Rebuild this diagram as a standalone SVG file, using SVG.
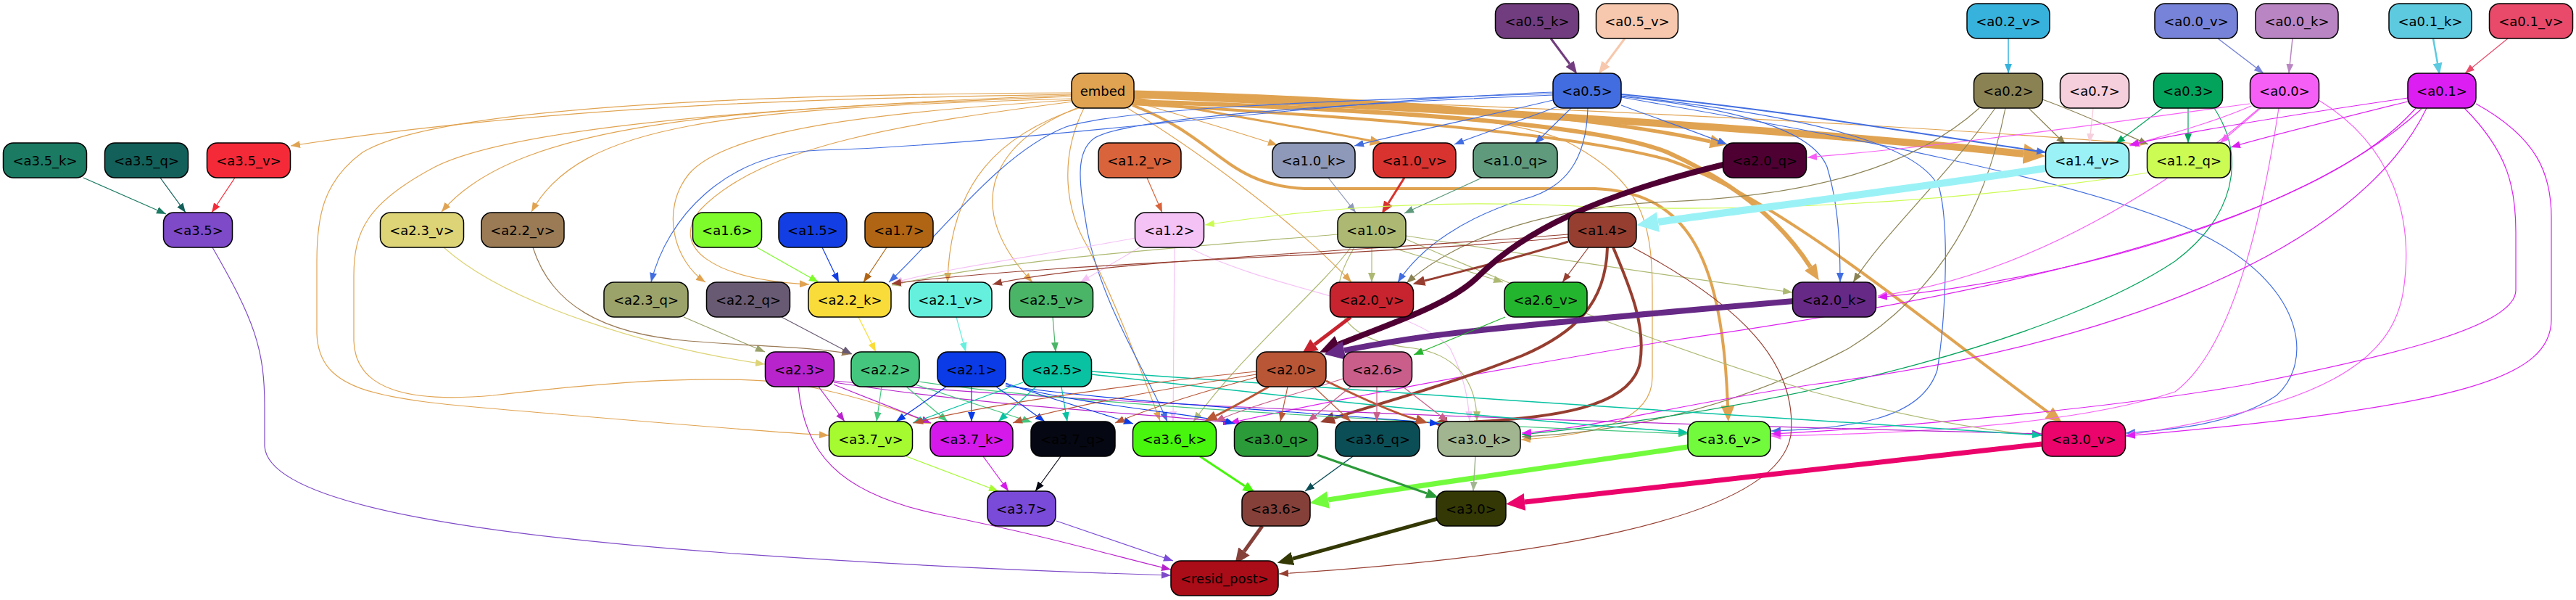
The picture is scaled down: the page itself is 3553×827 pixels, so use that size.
<svg xmlns="http://www.w3.org/2000/svg" width="3553" height="827" viewBox="0 0 3553 827">
<style>
.n rect{stroke:#000;stroke-width:1.5}
.n text{font-family:"DejaVu Sans","Liberation Sans",sans-serif;font-size:18px;text-anchor:middle;fill:#000}
</style>
<defs>
<marker id="s-emb" viewBox="0 0 10 10" refX="10" refY="5" markerWidth="13" markerHeight="10" markerUnits="userSpaceOnUse" orient="auto" preserveAspectRatio="none"><path d="M0,0L10,5L0,10z" fill="#e0a351"/></marker>
<marker id="M-emb" viewBox="0 0 10 10" refX="0" refY="5" markerWidth="17" markerHeight="14" markerUnits="userSpaceOnUse" orient="auto" preserveAspectRatio="none"><path d="M0,0L10,5L0,10z" fill="#e0a351"/></marker>
<marker id="L-emb" viewBox="0 0 10 10" refX="0" refY="5" markerWidth="22" markerHeight="19" markerUnits="userSpaceOnUse" orient="auto" preserveAspectRatio="none"><path d="M0,0L10,5L0,10z" fill="#e0a351"/></marker>
<marker id="X-emb" viewBox="0 0 10 10" refX="0" refY="5" markerWidth="30" markerHeight="28" markerUnits="userSpaceOnUse" orient="auto" preserveAspectRatio="none"><path d="M0,0L10,5L0,10z" fill="#e0a351"/></marker>
<marker id="M-a05k" viewBox="0 0 10 10" refX="0" refY="5" markerWidth="17" markerHeight="14" markerUnits="userSpaceOnUse" orient="auto" preserveAspectRatio="none"><path d="M0,0L10,5L0,10z" fill="#713d7e"/></marker>
<marker id="M-a05v" viewBox="0 0 10 10" refX="0" refY="5" markerWidth="17" markerHeight="14" markerUnits="userSpaceOnUse" orient="auto" preserveAspectRatio="none"><path d="M0,0L10,5L0,10z" fill="#f7c8ad"/></marker>
<marker id="s-a02v" viewBox="0 0 10 10" refX="10" refY="5" markerWidth="13" markerHeight="10" markerUnits="userSpaceOnUse" orient="auto" preserveAspectRatio="none"><path d="M0,0L10,5L0,10z" fill="#37b2dc"/></marker>
<marker id="s-a00v" viewBox="0 0 10 10" refX="10" refY="5" markerWidth="13" markerHeight="10" markerUnits="userSpaceOnUse" orient="auto" preserveAspectRatio="none"><path d="M0,0L10,5L0,10z" fill="#7783d8"/></marker>
<marker id="s-a00k" viewBox="0 0 10 10" refX="10" refY="5" markerWidth="13" markerHeight="10" markerUnits="userSpaceOnUse" orient="auto" preserveAspectRatio="none"><path d="M0,0L10,5L0,10z" fill="#ba85c3"/></marker>
<marker id="M-a01k" viewBox="0 0 10 10" refX="0" refY="5" markerWidth="16" markerHeight="13" markerUnits="userSpaceOnUse" orient="auto" preserveAspectRatio="none"><path d="M0,0L10,5L0,10z" fill="#5dcae0"/></marker>
<marker id="s-a01v" viewBox="0 0 10 10" refX="10" refY="5" markerWidth="13" markerHeight="10" markerUnits="userSpaceOnUse" orient="auto" preserveAspectRatio="none"><path d="M0,0L10,5L0,10z" fill="#e94a6a"/></marker>
<marker id="s-a35k" viewBox="0 0 10 10" refX="10" refY="5" markerWidth="13" markerHeight="10" markerUnits="userSpaceOnUse" orient="auto" preserveAspectRatio="none"><path d="M0,0L10,5L0,10z" fill="#1a7a62"/></marker>
<marker id="s-a35q" viewBox="0 0 10 10" refX="10" refY="5" markerWidth="13" markerHeight="10" markerUnits="userSpaceOnUse" orient="auto" preserveAspectRatio="none"><path d="M0,0L10,5L0,10z" fill="#135f5a"/></marker>
<marker id="s-a35v" viewBox="0 0 10 10" refX="10" refY="5" markerWidth="13" markerHeight="10" markerUnits="userSpaceOnUse" orient="auto" preserveAspectRatio="none"><path d="M0,0L10,5L0,10z" fill="#f52a38"/></marker>
<marker id="s-a35" viewBox="0 0 10 10" refX="10" refY="5" markerWidth="13" markerHeight="10" markerUnits="userSpaceOnUse" orient="auto" preserveAspectRatio="none"><path d="M0,0L10,5L0,10z" fill="#7e4ac8"/></marker>
<marker id="s-a05" viewBox="0 0 10 10" refX="10" refY="5" markerWidth="13" markerHeight="10" markerUnits="userSpaceOnUse" orient="auto" preserveAspectRatio="none"><path d="M0,0L10,5L0,10z" fill="#416de0"/></marker>
<marker id="s-a02" viewBox="0 0 10 10" refX="10" refY="5" markerWidth="13" markerHeight="10" markerUnits="userSpaceOnUse" orient="auto" preserveAspectRatio="none"><path d="M0,0L10,5L0,10z" fill="#8b8253"/></marker>
<marker id="s-a07" viewBox="0 0 10 10" refX="10" refY="5" markerWidth="13" markerHeight="10" markerUnits="userSpaceOnUse" orient="auto" preserveAspectRatio="none"><path d="M0,0L10,5L0,10z" fill="#f6cfdc"/></marker>
<marker id="s-a03" viewBox="0 0 10 10" refX="10" refY="5" markerWidth="13" markerHeight="10" markerUnits="userSpaceOnUse" orient="auto" preserveAspectRatio="none"><path d="M0,0L10,5L0,10z" fill="#04a35c"/></marker>
<marker id="s-a00" viewBox="0 0 10 10" refX="10" refY="5" markerWidth="13" markerHeight="10" markerUnits="userSpaceOnUse" orient="auto" preserveAspectRatio="none"><path d="M0,0L10,5L0,10z" fill="#f65ff6"/></marker>
<marker id="s-a01" viewBox="0 0 10 10" refX="10" refY="5" markerWidth="13" markerHeight="10" markerUnits="userSpaceOnUse" orient="auto" preserveAspectRatio="none"><path d="M0,0L10,5L0,10z" fill="#dc1ef2"/></marker>
<marker id="s-a12v" viewBox="0 0 10 10" refX="10" refY="5" markerWidth="13" markerHeight="10" markerUnits="userSpaceOnUse" orient="auto" preserveAspectRatio="none"><path d="M0,0L10,5L0,10z" fill="#d9633b"/></marker>
<marker id="s-a10k" viewBox="0 0 10 10" refX="10" refY="5" markerWidth="13" markerHeight="10" markerUnits="userSpaceOnUse" orient="auto" preserveAspectRatio="none"><path d="M0,0L10,5L0,10z" fill="#8e98b8"/></marker>
<marker id="M-a10v" viewBox="0 0 10 10" refX="0" refY="5" markerWidth="17" markerHeight="14" markerUnits="userSpaceOnUse" orient="auto" preserveAspectRatio="none"><path d="M0,0L10,5L0,10z" fill="#d8332f"/></marker>
<marker id="s-a10q" viewBox="0 0 10 10" refX="10" refY="5" markerWidth="13" markerHeight="10" markerUnits="userSpaceOnUse" orient="auto" preserveAspectRatio="none"><path d="M0,0L10,5L0,10z" fill="#5f9a7c"/></marker>
<marker id="X-a20q" viewBox="0 0 10 10" refX="0" refY="5" markerWidth="28" markerHeight="26" markerUnits="userSpaceOnUse" orient="auto" preserveAspectRatio="none"><path d="M0,0L10,5L0,10z" fill="#4f0033"/></marker>
<marker id="X-a14v" viewBox="0 0 10 10" refX="0" refY="5" markerWidth="30" markerHeight="28" markerUnits="userSpaceOnUse" orient="auto" preserveAspectRatio="none"><path d="M0,0L10,5L0,10z" fill="#9bf2f6"/></marker>
<marker id="s-a12q" viewBox="0 0 10 10" refX="10" refY="5" markerWidth="13" markerHeight="10" markerUnits="userSpaceOnUse" orient="auto" preserveAspectRatio="none"><path d="M0,0L10,5L0,10z" fill="#ccfb54"/></marker>
<marker id="s-a23v" viewBox="0 0 10 10" refX="10" refY="5" markerWidth="13" markerHeight="10" markerUnits="userSpaceOnUse" orient="auto" preserveAspectRatio="none"><path d="M0,0L10,5L0,10z" fill="#ddd477"/></marker>
<marker id="s-a22v" viewBox="0 0 10 10" refX="10" refY="5" markerWidth="13" markerHeight="10" markerUnits="userSpaceOnUse" orient="auto" preserveAspectRatio="none"><path d="M0,0L10,5L0,10z" fill="#9a7b55"/></marker>
<marker id="s-a16" viewBox="0 0 10 10" refX="10" refY="5" markerWidth="13" markerHeight="10" markerUnits="userSpaceOnUse" orient="auto" preserveAspectRatio="none"><path d="M0,0L10,5L0,10z" fill="#7dfb2a"/></marker>
<marker id="s-a15" viewBox="0 0 10 10" refX="10" refY="5" markerWidth="13" markerHeight="10" markerUnits="userSpaceOnUse" orient="auto" preserveAspectRatio="none"><path d="M0,0L10,5L0,10z" fill="#133ee3"/></marker>
<marker id="s-a17" viewBox="0 0 10 10" refX="10" refY="5" markerWidth="13" markerHeight="10" markerUnits="userSpaceOnUse" orient="auto" preserveAspectRatio="none"><path d="M0,0L10,5L0,10z" fill="#b06514"/></marker>
<marker id="s-a12" viewBox="0 0 10 10" refX="10" refY="5" markerWidth="13" markerHeight="10" markerUnits="userSpaceOnUse" orient="auto" preserveAspectRatio="none"><path d="M0,0L10,5L0,10z" fill="#f5c2f6"/></marker>
<marker id="s-a10" viewBox="0 0 10 10" refX="10" refY="5" markerWidth="13" markerHeight="10" markerUnits="userSpaceOnUse" orient="auto" preserveAspectRatio="none"><path d="M0,0L10,5L0,10z" fill="#adb972"/></marker>
<marker id="s-a14" viewBox="0 0 10 10" refX="10" refY="5" markerWidth="13" markerHeight="10" markerUnits="userSpaceOnUse" orient="auto" preserveAspectRatio="none"><path d="M0,0L10,5L0,10z" fill="#963e30"/></marker>
<marker id="M-a14" viewBox="0 0 10 10" refX="0" refY="5" markerWidth="17" markerHeight="14" markerUnits="userSpaceOnUse" orient="auto" preserveAspectRatio="none"><path d="M0,0L10,5L0,10z" fill="#963e30"/></marker>
<marker id="L-a14" viewBox="0 0 10 10" refX="0" refY="5" markerWidth="20" markerHeight="17" markerUnits="userSpaceOnUse" orient="auto" preserveAspectRatio="none"><path d="M0,0L10,5L0,10z" fill="#963e30"/></marker>
<marker id="s-a23q" viewBox="0 0 10 10" refX="10" refY="5" markerWidth="13" markerHeight="10" markerUnits="userSpaceOnUse" orient="auto" preserveAspectRatio="none"><path d="M0,0L10,5L0,10z" fill="#9ba26a"/></marker>
<marker id="s-a22q" viewBox="0 0 10 10" refX="10" refY="5" markerWidth="13" markerHeight="10" markerUnits="userSpaceOnUse" orient="auto" preserveAspectRatio="none"><path d="M0,0L10,5L0,10z" fill="#685a73"/></marker>
<marker id="s-a22k" viewBox="0 0 10 10" refX="10" refY="5" markerWidth="13" markerHeight="10" markerUnits="userSpaceOnUse" orient="auto" preserveAspectRatio="none"><path d="M0,0L10,5L0,10z" fill="#f9dc3a"/></marker>
<marker id="s-a21v" viewBox="0 0 10 10" refX="10" refY="5" markerWidth="13" markerHeight="10" markerUnits="userSpaceOnUse" orient="auto" preserveAspectRatio="none"><path d="M0,0L10,5L0,10z" fill="#64f0dc"/></marker>
<marker id="s-a25v" viewBox="0 0 10 10" refX="10" refY="5" markerWidth="13" markerHeight="10" markerUnits="userSpaceOnUse" orient="auto" preserveAspectRatio="none"><path d="M0,0L10,5L0,10z" fill="#4ab566"/></marker>
<marker id="L-a20v" viewBox="0 0 10 10" refX="0" refY="5" markerWidth="22" markerHeight="19" markerUnits="userSpaceOnUse" orient="auto" preserveAspectRatio="none"><path d="M0,0L10,5L0,10z" fill="#c8242f"/></marker>
<marker id="s-a26v" viewBox="0 0 10 10" refX="10" refY="5" markerWidth="13" markerHeight="10" markerUnits="userSpaceOnUse" orient="auto" preserveAspectRatio="none"><path d="M0,0L10,5L0,10z" fill="#23b52d"/></marker>
<marker id="X-a20k" viewBox="0 0 10 10" refX="0" refY="5" markerWidth="28" markerHeight="26" markerUnits="userSpaceOnUse" orient="auto" preserveAspectRatio="none"><path d="M0,0L10,5L0,10z" fill="#662985"/></marker>
<marker id="s-a23" viewBox="0 0 10 10" refX="10" refY="5" markerWidth="13" markerHeight="10" markerUnits="userSpaceOnUse" orient="auto" preserveAspectRatio="none"><path d="M0,0L10,5L0,10z" fill="#b824cc"/></marker>
<marker id="s-a22" viewBox="0 0 10 10" refX="10" refY="5" markerWidth="13" markerHeight="10" markerUnits="userSpaceOnUse" orient="auto" preserveAspectRatio="none"><path d="M0,0L10,5L0,10z" fill="#45c67e"/></marker>
<marker id="s-a21" viewBox="0 0 10 10" refX="10" refY="5" markerWidth="13" markerHeight="10" markerUnits="userSpaceOnUse" orient="auto" preserveAspectRatio="none"><path d="M0,0L10,5L0,10z" fill="#0a3be6"/></marker>
<marker id="s-a25" viewBox="0 0 10 10" refX="10" refY="5" markerWidth="13" markerHeight="10" markerUnits="userSpaceOnUse" orient="auto" preserveAspectRatio="none"><path d="M0,0L10,5L0,10z" fill="#08c2a2"/></marker>
<marker id="s-a20" viewBox="0 0 10 10" refX="10" refY="5" markerWidth="13" markerHeight="10" markerUnits="userSpaceOnUse" orient="auto" preserveAspectRatio="none"><path d="M0,0L10,5L0,10z" fill="#b85636"/></marker>
<marker id="M-a20" viewBox="0 0 10 10" refX="0" refY="5" markerWidth="17" markerHeight="14" markerUnits="userSpaceOnUse" orient="auto" preserveAspectRatio="none"><path d="M0,0L10,5L0,10z" fill="#b85636"/></marker>
<marker id="s-a26" viewBox="0 0 10 10" refX="10" refY="5" markerWidth="13" markerHeight="10" markerUnits="userSpaceOnUse" orient="auto" preserveAspectRatio="none"><path d="M0,0L10,5L0,10z" fill="#c95e8a"/></marker>
<marker id="s-a37v" viewBox="0 0 10 10" refX="10" refY="5" markerWidth="13" markerHeight="10" markerUnits="userSpaceOnUse" orient="auto" preserveAspectRatio="none"><path d="M0,0L10,5L0,10z" fill="#a5fb30"/></marker>
<marker id="s-a37k" viewBox="0 0 10 10" refX="10" refY="5" markerWidth="13" markerHeight="10" markerUnits="userSpaceOnUse" orient="auto" preserveAspectRatio="none"><path d="M0,0L10,5L0,10z" fill="#d519ea"/></marker>
<marker id="s-a37q" viewBox="0 0 10 10" refX="10" refY="5" markerWidth="13" markerHeight="10" markerUnits="userSpaceOnUse" orient="auto" preserveAspectRatio="none"><path d="M0,0L10,5L0,10z" fill="#050712"/></marker>
<marker id="M-a36k" viewBox="0 0 10 10" refX="0" refY="5" markerWidth="17" markerHeight="14" markerUnits="userSpaceOnUse" orient="auto" preserveAspectRatio="none"><path d="M0,0L10,5L0,10z" fill="#48f50c"/></marker>
<marker id="M-a30q" viewBox="0 0 10 10" refX="0" refY="5" markerWidth="17" markerHeight="14" markerUnits="userSpaceOnUse" orient="auto" preserveAspectRatio="none"><path d="M0,0L10,5L0,10z" fill="#2b9a39"/></marker>
<marker id="s-a36q" viewBox="0 0 10 10" refX="10" refY="5" markerWidth="13" markerHeight="10" markerUnits="userSpaceOnUse" orient="auto" preserveAspectRatio="none"><path d="M0,0L10,5L0,10z" fill="#0b4e56"/></marker>
<marker id="s-a30k" viewBox="0 0 10 10" refX="10" refY="5" markerWidth="13" markerHeight="10" markerUnits="userSpaceOnUse" orient="auto" preserveAspectRatio="none"><path d="M0,0L10,5L0,10z" fill="#a1b590"/></marker>
<marker id="X-a36v" viewBox="0 0 10 10" refX="0" refY="5" markerWidth="26" markerHeight="24" markerUnits="userSpaceOnUse" orient="auto" preserveAspectRatio="none"><path d="M0,0L10,5L0,10z" fill="#72fb3c"/></marker>
<marker id="X-a30v" viewBox="0 0 10 10" refX="0" refY="5" markerWidth="26" markerHeight="24" markerUnits="userSpaceOnUse" orient="auto" preserveAspectRatio="none"><path d="M0,0L10,5L0,10z" fill="#eb046b"/></marker>
<marker id="s-a37" viewBox="0 0 10 10" refX="10" refY="5" markerWidth="13" markerHeight="10" markerUnits="userSpaceOnUse" orient="auto" preserveAspectRatio="none"><path d="M0,0L10,5L0,10z" fill="#7a4ad8"/></marker>
<marker id="L-a36" viewBox="0 0 10 10" refX="0" refY="5" markerWidth="22" markerHeight="19" markerUnits="userSpaceOnUse" orient="auto" preserveAspectRatio="none"><path d="M0,0L10,5L0,10z" fill="#854039"/></marker>
<marker id="L-a30" viewBox="0 0 10 10" refX="0" refY="5" markerWidth="22" markerHeight="19" markerUnits="userSpaceOnUse" orient="auto" preserveAspectRatio="none"><path d="M0,0L10,5L0,10z" fill="#333804"/></marker>
</defs>
<rect width="3553" height="827" fill="#fff"/>
<g id="edges" fill="none" stroke-width="1.2">
<path d="M2139,53 L2165,88" stroke="#713d7e" stroke-width="3" marker-end="url(#M-a05k)"/>
<path d="M2241,53 L2215,88" stroke="#f7c8ad" stroke-width="3" marker-end="url(#M-a05v)"/>
<path d="M2770,53 L2770,101" stroke="#37b2dc" stroke-width="1.5" marker-end="url(#s-a02v)"/>
<path d="M3059,53 L3122,101" stroke="#7783d8" stroke-width="1.5" marker-end="url(#s-a00v)"/>
<path d="M3162,53 L3157,101" stroke="#ba85c3" stroke-width="1.5" marker-end="url(#s-a00k)"/>
<path d="M3356,53 L3362,87" stroke="#5dcae0" stroke-width="2.5" marker-end="url(#M-a01k)"/>
<path d="M3459,53 L3400,101" stroke="#e94a6a" marker-end="url(#s-a01v)"/>
<path d="M115,245 L229,295" stroke="#1a7a62" marker-end="url(#s-a35k)"/>
<path d="M221,245 L256,293" stroke="#135f5a" marker-end="url(#s-a35q)"/>
<path d="M324,245 L292,293" stroke="#f52a38" marker-end="url(#s-a35v)"/>
<path d="M293,341 C350,440 365,480 365,560 L365,615 C370,700 700,740 1000,762 C1250,780 1450,788 1615,793" stroke="#7e4ac8" marker-end="url(#s-a35)"/>
<path d="M1478,130 C1200,135 800,140 401,201" stroke="#e0a351" marker-end="url(#s-emb)"/>
<path d="M1478,133 C1050,150 720,160 609,292" stroke="#e0a351" marker-end="url(#s-emb)"/>
<path d="M1478,136 C1000,150 800,170 733,292" stroke="#e0a351" marker-end="url(#s-emb)"/>
<path d="M1478,138 C1200,155 1000,180 950,240 C910,290 930,360 973,389" stroke="#e0a351" marker-end="url(#s-emb)"/>
<path d="M1480,140 C1250,170 1050,200 965,290 C925,340 980,385 1116,392" stroke="#e0a351" marker-end="url(#s-emb)"/>
<path d="M1478,128 C1000,130 600,150 500,210 C445,250 437,300 437,360 L437,460 C440,540 520,550 700,565 C900,582 1050,595 1143,600" stroke="#e0a351" marker-end="url(#s-emb)"/>
<path d="M1478,131 C1000,150 700,180 600,230 C505,280 488,320 488,380 L488,470 C490,540 570,555 680,545 C850,525 1000,515 1100,530 C1180,545 1240,565 1284,584" stroke="#e0a351" marker-end="url(#s-emb)"/>
<path d="M1488,149 C1380,185 1310,250 1307,389" stroke="#e0a351" marker-end="url(#s-emb)"/>
<path d="M1485,149 C1360,200 1330,290 1424,389" stroke="#e0a351" marker-end="url(#s-emb)"/>
<path d="M1564,140 C1650,165 1700,180 1762,200" stroke="#e0a351" marker-end="url(#s-emb)"/>
<path d="M1564,135 C1700,160 1820,180 1890,194" stroke="#e0a351" stroke-width="3" marker-end="url(#M-emb)"/>
<path d="M1555,149 C1640,200 1780,300 1864,389" stroke="#e0a351" marker-end="url(#s-emb)"/>
<path d="M1564,127 C1900,135 2200,160 2359,195" stroke="#e0a351" stroke-width="5" marker-end="url(#L-emb)"/>
<path d="M1564,130 C1900,145 2450,175 2791,212" stroke="#e0a351" stroke-width="10" marker-end="url(#X-emb)"/>
<path d="M1562,140 C1900,150 2200,170 2300,210 C2400,255 2460,310 2497,368" stroke="#e0a351" stroke-width="6" marker-end="url(#L-emb)"/>
<path d="M1560,143 C1850,160 2150,180 2300,220 C2450,270 2650,440 2826,569" stroke="#e0a351" stroke-width="4" marker-end="url(#L-emb)"/>
<path d="M1562,145 C1680,190 1690,255 1800,260 L2200,260 C2320,265 2375,340 2383,559" stroke="#e0a351" stroke-width="4" marker-end="url(#L-emb)"/>
<path d="M1564,132 C2000,140 2600,170 2958,199" stroke="#e0a351" marker-end="url(#s-emb)"/>
<path d="M1564,138 C1900,150 2100,160 2170,200 C2260,250 2279,300 2279,400 L2279,520 C2279,580 2200,600 2098,606" stroke="#e0a351" marker-end="url(#s-emb)"/>
<path d="M1495,149 C1460,220 1470,290 1500,340 C1540,420 1570,500 1600,580" stroke="#e0a351" marker-end="url(#s-emb)"/>
<path d="M2142,138 C2050,160 1950,180 1868,201" stroke="#416de0" marker-end="url(#s-a05)"/>
<path d="M2148,147 C2100,165 2050,182 2006,199" stroke="#416de0" marker-end="url(#s-a05)"/>
<path d="M2167,149 L2117,198" stroke="#416de0" marker-end="url(#s-a05)"/>
<path d="M2236,145 C2290,165 2340,182 2382,199" stroke="#416de0" marker-end="url(#s-a05)"/>
<path d="M2190,149 C2188,220 2160,260 2100,275 C2020,300 1960,340 1928,389" stroke="#416de0" marker-end="url(#s-a05)"/>
<path d="M2236,133 C2400,150 2500,180 2520,230 C2535,280 2538,330 2538,389" stroke="#416de0" marker-end="url(#s-a05)"/>
<path d="M2236,130 C2450,150 2650,185 2822,210" stroke="#416de0" stroke-width="2" marker-end="url(#s-a05)"/>
<path d="M2236,134 C2500,180 2900,250 3050,330 C3180,400 3190,500 3140,545 C3080,585 3000,592 2932,597" stroke="#416de0" marker-end="url(#s-a05)"/>
<path d="M2236,132 C2500,160 2650,200 2675,260 C2690,320 2682,450 2672,510 C2650,580 2550,590 2443,594" stroke="#416de0" marker-end="url(#s-a05)"/>
<path d="M2142,127 C1800,140 1400,200 1130,207 C1000,212 920,300 898,389" stroke="#416de0" marker-end="url(#s-a05)"/>
<path d="M2142,129 C1800,140 1550,150 1470,175 C1380,210 1300,320 1226,389" stroke="#416de0" marker-end="url(#s-a05)"/>
<path d="M2142,131 C1800,145 1550,165 1510,190 C1480,210 1490,260 1500,320 C1520,420 1580,510 1610,581" stroke="#416de0" marker-end="url(#s-a05)"/>
<path d="M2798,149 L2849,199" stroke="#8b8253" marker-end="url(#s-a02)"/>
<path d="M2817,137 C2880,160 2920,180 2963,199" stroke="#8b8253" marker-end="url(#s-a02)"/>
<path d="M2752,149 C2680,250 2600,320 2556,389" stroke="#8b8253" marker-end="url(#s-a02)"/>
<path d="M2730,149 C2640,230 2500,270 2300,278 C2150,285 2020,320 1940,390" stroke="#8b8253" marker-end="url(#s-a02)"/>
<path d="M2766,149 C2740,280 2680,400 2550,480 C2400,560 2250,595 2099,602" stroke="#8b8253" marker-end="url(#s-a02)"/>
<path d="M2887,149 L2882,197" stroke="#f6cfdc" stroke-width="1.5" marker-end="url(#s-a07)"/>
<path d="M2983,149 L2918,198" stroke="#04a35c" marker-end="url(#s-a03)"/>
<path d="M3018,149 L3018,197" stroke="#04a35c" marker-end="url(#s-a03)"/>
<path d="M3054,149 C3100,220 3080,300 3000,360 C2850,460 2500,560 2099,599" stroke="#04a35c" marker-end="url(#s-a03)"/>
<path d="M3105,146 C3050,170 2990,185 2938,201" stroke="#f65ff6" marker-end="url(#s-a00)"/>
<path d="M3118,149 L3062,197" stroke="#f65ff6" marker-end="url(#s-a00)"/>
<path d="M3103,143 C2900,170 2700,200 2493,217" stroke="#f65ff6" marker-end="url(#s-a00)"/>
<path d="M3115,150 C3000,250 2800,380 2590,408" stroke="#f65ff6" marker-end="url(#s-a00)"/>
<path d="M3143,149 C3120,300 3080,480 3000,540 C2850,590 2600,598 2443,601" stroke="#f65ff6" marker-end="url(#s-a00)"/>
<path d="M3198,138 C3300,200 3330,300 3315,400 C3300,500 3200,560 2932,600" stroke="#f65ff6" marker-end="url(#s-a00)"/>
<path d="M3321,135 C3150,160 3000,185 2937,200" stroke="#dc1ef2" marker-end="url(#s-a01)"/>
<path d="M3321,140 C3200,170 3120,190 3077,203" stroke="#dc1ef2" marker-end="url(#s-a01)"/>
<path d="M3415,143 C3500,190 3519,240 3519,300 L3519,440 C3519,520 3400,560 2932,601" stroke="#dc1ef2" marker-end="url(#s-a01)"/>
<path d="M3399,149 C3460,210 3470,260 3470,320 L3470,400 C3470,450 3300,490 3100,530 C2900,565 2600,590 2443,598" stroke="#dc1ef2" marker-end="url(#s-a01)"/>
<path d="M3332,149 C3200,300 2800,400 2300,470 C2000,520 1800,560 1696,583" stroke="#dc1ef2" marker-end="url(#s-a01)"/>
<path d="M3347,149 C3250,350 2900,480 2500,530 C2300,560 2200,590 2099,597" stroke="#dc1ef2" marker-end="url(#s-a01)"/>
<path d="M3340,150 C3200,280 2900,380 2590,410" stroke="#dc1ef2" marker-end="url(#s-a01)"/>
<path d="M1582,245 L1603,293" stroke="#d9633b" marker-end="url(#s-a12v)"/>
<path d="M1832,245 L1870,293" stroke="#8e98b8" marker-end="url(#s-a10k)"/>
<path d="M1937,245 L1915,280" stroke="#d8332f" stroke-width="3" marker-end="url(#M-a10v)"/>
<path d="M2044,245 L1937,294" stroke="#5f9a7c" marker-end="url(#s-a10q)"/>
<path d="M2963,238 C2700,280 2400,295 2150,283 C1950,275 1800,290 1662,310" stroke="#ccfb54" marker-end="url(#s-a12q)"/>
<path d="M2821,232 C2600,265 2400,290 2287,306" stroke="#9bf2f6" stroke-width="10" marker-end="url(#X-a14v)"/>
<path d="M1044,341 L1129,389" stroke="#7dfb2a" marker-end="url(#s-a16)"/>
<path d="M1134,341 L1157,389" stroke="#133ee3" marker-end="url(#s-a15)"/>
<path d="M1223,341 L1191,389" stroke="#b06514" marker-end="url(#s-a17)"/>
<path d="M1572,341 L1490,389" stroke="#f5c2f6" marker-end="url(#s-a12)"/>
<path d="M1566,328 C1450,350 1300,370 1232,390" stroke="#f5c2f6" marker-end="url(#s-a12)"/>
<path d="M1620,341 L1618,580" stroke="#f5c2f6" marker-end="url(#s-a12)"/>
<path d="M1640,341 C1750,400 1950,420 2000,480 C2020,520 2025,550 2027,580" stroke="#f5c2f6" marker-end="url(#s-a12)"/>
<path d="M1892,341 L1892,389" stroke="#adb972" marker-end="url(#s-a10)"/>
<path d="M1919,341 L2073,389" stroke="#adb972" marker-end="url(#s-a10)"/>
<path d="M1939,325 C2100,350 2300,380 2472,403" stroke="#adb972" marker-end="url(#s-a10)"/>
<path d="M1845,323 C1650,340 1400,355 1230,393" stroke="#adb972" marker-end="url(#s-a10)"/>
<path d="M1868,341 C1820,420 1850,470 1950,480 C2020,490 2037,540 2037,580" stroke="#adb972" marker-end="url(#s-a10)"/>
<path d="M1940,330 C2100,400 2300,480 2500,540 C2650,580 2750,595 2816,600" stroke="#adb972" marker-end="url(#s-a10)"/>
<path d="M1863,341 C1820,400 1720,480 1646,581" stroke="#adb972" marker-end="url(#s-a10)"/>
<path d="M2163,333 C2080,360 2010,375 1965,387" stroke="#963e30" stroke-width="3" marker-end="url(#M-a14)"/>
<path d="M2191,341 L2155,389" stroke="#963e30" marker-end="url(#s-a14)"/>
<path d="M2163,323 C1900,345 1500,360 1369,392" stroke="#963e30" marker-end="url(#s-a14)"/>
<path d="M2163,327 C1900,352 1450,362 1230,391" stroke="#963e30" marker-end="url(#s-a14)"/>
<path d="M2217,341 C2215,420 2170,460 2100,490 C2000,530 1890,560 1840,576" stroke="#963e30" stroke-width="4" marker-end="url(#L-a14)"/>
<path d="M2225,341 C2250,400 2270,450 2262,500 C2250,560 2150,578 1996,583" stroke="#963e30" stroke-width="4" marker-end="url(#L-a14)"/>
<path d="M2252,341 C2400,420 2480,500 2470,600 C2450,720 2100,770 1764,791" stroke="#963e30" marker-end="url(#s-a14)"/>
<path d="M943,437 L1055,485" stroke="#9ba26a" marker-end="url(#s-a23q)"/>
<path d="M612,341 C700,420 900,480 1055,502" stroke="#ddd477" marker-end="url(#s-a23v)"/>
<path d="M735,341 C760,420 830,460 950,470 C1050,478 1120,478 1174,488" stroke="#9a7b55" marker-end="url(#s-a22v)"/>
<path d="M1078,437 L1175,488" stroke="#685a73" marker-end="url(#s-a22q)"/>
<path d="M1184,437 L1208,485" stroke="#f9dc3a" marker-end="url(#s-a22k)"/>
<path d="M1319,437 L1332,485" stroke="#64f0dc" marker-end="url(#s-a21v)"/>
<path d="M1452,437 L1456,485" stroke="#4ab566" marker-end="url(#s-a25v)"/>
<path d="M1863,437 L1813,475" stroke="#c8242f" stroke-width="5" marker-end="url(#L-a20v)"/>
<path d="M2377,227 C2200,270 2100,320 2040,380 C2000,420 1920,445 1846,475" stroke="#4f0033" stroke-width="8" marker-end="url(#X-a20q)"/>
<path d="M2474,415 C2300,430 2050,452 1960,465 C1910,472 1880,478 1854,483" stroke="#662985" stroke-width="8" marker-end="url(#X-a20k)"/>
<path d="M2076,437 L1950,489" stroke="#23b52d" marker-end="url(#s-a26v)"/>
<path d="M1129,533 L1165,581" stroke="#b824cc" marker-end="url(#s-a23)"/>
<path d="M1150,530 L1284,583" stroke="#b824cc" marker-end="url(#s-a23)"/>
<path d="M1150,527 C1400,565 1600,570 1700,583" stroke="#b824cc" marker-end="url(#s-a23)"/>
<path d="M1150,525 C1600,565 2300,585 2816,598" stroke="#b824cc" marker-end="url(#s-a23)"/>
<path d="M1101,533 C1110,620 1150,680 1300,710 C1450,740 1550,770 1615,785" stroke="#b824cc" marker-end="url(#s-a23)"/>
<path d="M1216,533 L1209,581" stroke="#45c67e" marker-end="url(#s-a22)"/>
<path d="M1250,533 L1307,581" stroke="#45c67e" marker-end="url(#s-a22)"/>
<path d="M1262,530 L1423,582" stroke="#45c67e" marker-end="url(#s-a22)"/>
<path d="M1268,526 C1500,560 2000,585 2328,598" stroke="#45c67e" marker-end="url(#s-a22)"/>
<path d="M1305,533 L1236,581" stroke="#0a3be6" marker-end="url(#s-a21)"/>
<path d="M1340,533 L1340,581" stroke="#0a3be6" marker-end="url(#s-a21)"/>
<path d="M1374,533 L1441,581" stroke="#0a3be6" marker-end="url(#s-a21)"/>
<path d="M1387,528 C1450,550 1520,570 1563,584" stroke="#0a3be6" marker-end="url(#s-a21)"/>
<path d="M1387,530 C1500,560 1650,570 1703,584" stroke="#0a3be6" marker-end="url(#s-a21)"/>
<path d="M1387,532 C1600,560 1850,570 1985,584" stroke="#0a3be6" marker-end="url(#s-a21)"/>
<path d="M1411,527 L1259,583" stroke="#08c2a2" marker-end="url(#s-a25)"/>
<path d="M1429,533 L1377,581" stroke="#08c2a2" marker-end="url(#s-a25)"/>
<path d="M1464,533 L1472,581" stroke="#08c2a2" marker-end="url(#s-a25)"/>
<path d="M1506,516 C1800,550 2100,580 2328,596" stroke="#08c2a2" stroke-width="1.5" marker-end="url(#s-a25)"/>
<path d="M1506,512 C1900,540 2500,580 2816,600" stroke="#08c2a2" stroke-width="1.5" marker-end="url(#s-a25)"/>
<path d="M1733,512 C1550,530 1350,560 1260,583" stroke="#b85636" marker-end="url(#s-a20)"/>
<path d="M1733,516 C1580,540 1450,565 1397,583" stroke="#b85636" marker-end="url(#s-a20)"/>
<path d="M1733,520 C1640,545 1580,565 1538,583" stroke="#b85636" marker-end="url(#s-a20)"/>
<path d="M1750,533 C1720,550 1700,562 1677,573" stroke="#b85636" stroke-width="3" marker-end="url(#M-a20)"/>
<path d="M1776,533 L1766,581" stroke="#b85636" marker-end="url(#s-a20)"/>
<path d="M1812,533 L1863,581" stroke="#b85636" marker-end="url(#s-a20)"/>
<path d="M1829,525 C1880,550 1920,568 1953,578" stroke="#b85636" stroke-width="3" marker-end="url(#M-a20)"/>
<path d="M1863,533 L1804,581" stroke="#c95e8a" marker-end="url(#s-a26)"/>
<path d="M1899,533 L1899,581" stroke="#c95e8a" marker-end="url(#s-a26)"/>
<path d="M1935,533 L1997,581" stroke="#c95e8a" marker-end="url(#s-a26)"/>
<path d="M1852,522 C1800,540 1720,560 1676,581" stroke="#c95e8a" marker-end="url(#s-a26)"/>
<path d="M1250,629 L1377,677" stroke="#a5fb30" marker-end="url(#s-a37v)"/>
<path d="M1356,629 L1391,677" stroke="#d519ea" marker-end="url(#s-a37k)"/>
<path d="M1463,629 L1428,677" stroke="#050712" marker-end="url(#s-a37q)"/>
<path d="M1655,629 L1717,670" stroke="#48f50c" stroke-width="3" marker-end="url(#M-a36k)"/>
<path d="M1866,629 L1800,677" stroke="#0b4e56" stroke-width="1.5" marker-end="url(#s-a36q)"/>
<path d="M2328,616 C2150,642 1950,670 1832,689" stroke="#72fb3c" stroke-width="7" marker-end="url(#X-a36v)"/>
<path d="M1817,627 L1968,680" stroke="#2b9a39" stroke-width="3" marker-end="url(#M-a30q)"/>
<path d="M2035,629 L2032,677" stroke="#a1b590" stroke-width="1.5" marker-end="url(#s-a30k)"/>
<path d="M2816,612 C2550,642 2300,672 2103,692" stroke="#eb046b" stroke-width="7" marker-end="url(#X-a30v)"/>
<path d="M1457,718 L1618,773" stroke="#7a4ad8" marker-end="url(#s-a37)"/>
<path d="M1741,725 L1716,760" stroke="#854039" stroke-width="5" marker-end="url(#L-a36)"/>
<path d="M1983,715 L1783,770" stroke="#333804" stroke-width="5" marker-end="url(#L-a30)"/>
</g>
<g id="n-a0_5_k" class="n"><rect x="2062.5" y="5" width="115" height="48" rx="14" fill="#713d7e"/><text x="2120" y="35.5">&lt;a0.5_k&gt;</text></g>
<g id="n-a0_5_v" class="n"><rect x="2201.5" y="5" width="113" height="48" rx="14" fill="#f7c8ad"/><text x="2258" y="35.5">&lt;a0.5_v&gt;</text></g>
<g id="n-a0_2_v" class="n"><rect x="2713" y="5" width="114" height="48" rx="14" fill="#37b2dc"/><text x="2770" y="35.5">&lt;a0.2_v&gt;</text></g>
<g id="n-a0_0_v" class="n"><rect x="2972" y="5" width="114" height="48" rx="14" fill="#7783d8"/><text x="3029" y="35.5">&lt;a0.0_v&gt;</text></g>
<g id="n-a0_0_k" class="n"><rect x="3111" y="5" width="114" height="48" rx="14" fill="#ba85c3"/><text x="3168" y="35.5">&lt;a0.0_k&gt;</text></g>
<g id="n-a0_1_k" class="n"><rect x="3295" y="5" width="114" height="48" rx="14" fill="#5dcae0"/><text x="3352" y="35.5">&lt;a0.1_k&gt;</text></g>
<g id="n-a0_1_v" class="n"><rect x="3433.5" y="5" width="115" height="48" rx="14" fill="#e94a6a"/><text x="3491" y="35.5">&lt;a0.1_v&gt;</text></g>
<g id="n-embed" class="n"><rect x="1478" y="101" width="86" height="48" rx="14" fill="#e0a351"/><text x="1521" y="131.5">embed</text></g>
<g id="n-a0_5" class="n"><rect x="2142" y="101" width="94" height="48" rx="14" fill="#416de0"/><text x="2189" y="131.5">&lt;a0.5&gt;</text></g>
<g id="n-a0_2" class="n"><rect x="2722.5" y="101" width="95" height="48" rx="14" fill="#8b8253"/><text x="2770" y="131.5">&lt;a0.2&gt;</text></g>
<g id="n-a0_7" class="n"><rect x="2841.5" y="101" width="95" height="48" rx="14" fill="#f6cfdc"/><text x="2889" y="131.5">&lt;a0.7&gt;</text></g>
<g id="n-a0_3" class="n"><rect x="2970.5" y="101" width="95" height="48" rx="14" fill="#04a35c"/><text x="3018" y="131.5">&lt;a0.3&gt;</text></g>
<g id="n-a0_0" class="n"><rect x="3103.5" y="101" width="95" height="48" rx="14" fill="#f65ff6"/><text x="3151" y="131.5">&lt;a0.0&gt;</text></g>
<g id="n-a0_1" class="n"><rect x="3321" y="101" width="94" height="48" rx="14" fill="#dc1ef2"/><text x="3368" y="131.5">&lt;a0.1&gt;</text></g>
<g id="n-a3_5_k" class="n"><rect x="4.5" y="197" width="115" height="48" rx="14" fill="#1a7a62"/><text x="62" y="227.5">&lt;a3.5_k&gt;</text></g>
<g id="n-a3_5_q" class="n"><rect x="144.5" y="197" width="115" height="48" rx="14" fill="#135f5a"/><text x="202" y="227.5">&lt;a3.5_q&gt;</text></g>
<g id="n-a3_5_v" class="n"><rect x="285.5" y="197" width="115" height="48" rx="14" fill="#f52a38"/><text x="343" y="227.5">&lt;a3.5_v&gt;</text></g>
<g id="n-a1_2_v" class="n"><rect x="1515" y="197" width="114" height="48" rx="14" fill="#d9633b"/><text x="1572" y="227.5">&lt;a1.2_v&gt;</text></g>
<g id="n-a1_0_k" class="n"><rect x="1755" y="197" width="114" height="48" rx="14" fill="#8e98b8"/><text x="1812" y="227.5">&lt;a1.0_k&gt;</text></g>
<g id="n-a1_0_v" class="n"><rect x="1894" y="197" width="114" height="48" rx="14" fill="#d8332f"/><text x="1951" y="227.5">&lt;a1.0_v&gt;</text></g>
<g id="n-a1_0_q" class="n"><rect x="2032" y="197" width="116" height="48" rx="14" fill="#5f9a7c"/><text x="2090" y="227.5">&lt;a1.0_q&gt;</text></g>
<g id="n-a2_0_q" class="n"><rect x="2376.5" y="197" width="115" height="48" rx="14" fill="#4f0033"/><text x="2434" y="227.5">&lt;a2.0_q&gt;</text></g>
<g id="n-a1_4_v" class="n"><rect x="2821.5" y="197" width="115" height="48" rx="14" fill="#9bf2f6"/><text x="2879" y="227.5">&lt;a1.4_v&gt;</text></g>
<g id="n-a1_2_q" class="n"><rect x="2961.5" y="197" width="115" height="48" rx="14" fill="#ccfb54"/><text x="3019" y="227.5">&lt;a1.2_q&gt;</text></g>
<g id="n-a3_5" class="n"><rect x="225.5" y="293" width="95" height="48" rx="14" fill="#7e4ac8"/><text x="273" y="323.5">&lt;a3.5&gt;</text></g>
<g id="n-a2_3_v" class="n"><rect x="524.5" y="293" width="115" height="48" rx="14" fill="#ddd477"/><text x="582" y="323.5">&lt;a2.3_v&gt;</text></g>
<g id="n-a2_2_v" class="n"><rect x="664" y="293" width="114" height="48" rx="14" fill="#9a7b55"/><text x="721" y="323.5">&lt;a2.2_v&gt;</text></g>
<g id="n-a1_6" class="n"><rect x="955.5" y="293" width="95" height="48" rx="14" fill="#7dfb2a"/><text x="1003" y="323.5">&lt;a1.6&gt;</text></g>
<g id="n-a1_5" class="n"><rect x="1074" y="293" width="94" height="48" rx="14" fill="#133ee3"/><text x="1121" y="323.5">&lt;a1.5&gt;</text></g>
<g id="n-a1_7" class="n"><rect x="1193" y="293" width="94" height="48" rx="14" fill="#b06514"/><text x="1240" y="323.5">&lt;a1.7&gt;</text></g>
<g id="n-a1_2" class="n"><rect x="1565.5" y="293" width="95" height="48" rx="14" fill="#f5c2f6"/><text x="1613" y="323.5">&lt;a1.2&gt;</text></g>
<g id="n-a1_0" class="n"><rect x="1845" y="293" width="94" height="48" rx="14" fill="#adb972"/><text x="1892" y="323.5">&lt;a1.0&gt;</text></g>
<g id="n-a1_4" class="n"><rect x="2163" y="293" width="94" height="48" rx="14" fill="#963e30"/><text x="2210" y="323.5">&lt;a1.4&gt;</text></g>
<g id="n-a2_3_q" class="n"><rect x="833" y="389" width="116" height="48" rx="14" fill="#9ba26a"/><text x="891" y="419.5">&lt;a2.3_q&gt;</text></g>
<g id="n-a2_2_q" class="n"><rect x="974.5" y="389" width="115" height="48" rx="14" fill="#685a73"/><text x="1032" y="419.5">&lt;a2.2_q&gt;</text></g>
<g id="n-a2_2_k" class="n"><rect x="1115" y="389" width="114" height="48" rx="14" fill="#f9dc3a"/><text x="1172" y="419.5">&lt;a2.2_k&gt;</text></g>
<g id="n-a2_1_v" class="n"><rect x="1254" y="389" width="114" height="48" rx="14" fill="#64f0dc"/><text x="1311" y="419.5">&lt;a2.1_v&gt;</text></g>
<g id="n-a2_5_v" class="n"><rect x="1392.5" y="389" width="115" height="48" rx="14" fill="#4ab566"/><text x="1450" y="419.5">&lt;a2.5_v&gt;</text></g>
<g id="n-a2_0_v" class="n"><rect x="1834.5" y="389" width="115" height="48" rx="14" fill="#c8242f"/><text x="1892" y="419.5">&lt;a2.0_v&gt;</text></g>
<g id="n-a2_6_v" class="n"><rect x="2075" y="389" width="114" height="48" rx="14" fill="#23b52d"/><text x="2132" y="419.5">&lt;a2.6_v&gt;</text></g>
<g id="n-a2_0_k" class="n"><rect x="2472.5" y="389" width="115" height="48" rx="14" fill="#662985"/><text x="2530" y="419.5">&lt;a2.0_k&gt;</text></g>
<g id="n-a2_3" class="n"><rect x="1055.5" y="485" width="95" height="48" rx="14" fill="#b824cc"/><text x="1103" y="515.5">&lt;a2.3&gt;</text></g>
<g id="n-a2_2" class="n"><rect x="1174" y="485" width="94" height="48" rx="14" fill="#45c67e"/><text x="1221" y="515.5">&lt;a2.2&gt;</text></g>
<g id="n-a2_1" class="n"><rect x="1293" y="485" width="94" height="48" rx="14" fill="#0a3be6"/><text x="1340" y="515.5">&lt;a2.1&gt;</text></g>
<g id="n-a2_5" class="n"><rect x="1410.5" y="485" width="95" height="48" rx="14" fill="#08c2a2"/><text x="1458" y="515.5">&lt;a2.5&gt;</text></g>
<g id="n-a2_0" class="n"><rect x="1733" y="485" width="96" height="48" rx="14" fill="#b85636"/><text x="1781" y="515.5">&lt;a2.0&gt;</text></g>
<g id="n-a2_6" class="n"><rect x="1852.5" y="485" width="95" height="48" rx="14" fill="#c95e8a"/><text x="1900" y="515.5">&lt;a2.6&gt;</text></g>
<g id="n-a3_7_v" class="n"><rect x="1143.5" y="581" width="115" height="48" rx="14" fill="#a5fb30"/><text x="1201" y="611.5">&lt;a3.7_v&gt;</text></g>
<g id="n-a3_7_k" class="n"><rect x="1283" y="581" width="114" height="48" rx="14" fill="#d519ea"/><text x="1340" y="611.5">&lt;a3.7_k&gt;</text></g>
<g id="n-a3_7_q" class="n"><rect x="1422" y="581" width="116" height="48" rx="14" fill="#050712"/><text x="1480" y="611.5">&lt;a3.7_q&gt;</text></g>
<g id="n-a3_6_k" class="n"><rect x="1562.5" y="581" width="115" height="48" rx="14" fill="#48f50c"/><text x="1620" y="611.5">&lt;a3.6_k&gt;</text></g>
<g id="n-a3_0_q" class="n"><rect x="1702.5" y="581" width="115" height="48" rx="14" fill="#2b9a39"/><text x="1760" y="611.5">&lt;a3.0_q&gt;</text></g>
<g id="n-a3_6_q" class="n"><rect x="1842" y="581" width="116" height="48" rx="14" fill="#0b4e56"/><text x="1900" y="611.5">&lt;a3.6_q&gt;</text></g>
<g id="n-a3_0_k" class="n"><rect x="1983" y="581" width="114" height="48" rx="14" fill="#a1b590"/><text x="2040" y="611.5">&lt;a3.0_k&gt;</text></g>
<g id="n-a3_6_v" class="n"><rect x="2328" y="581" width="114" height="48" rx="14" fill="#72fb3c"/><text x="2385" y="611.5">&lt;a3.6_v&gt;</text></g>
<g id="n-a3_0_v" class="n"><rect x="2816.5" y="581" width="115" height="48" rx="14" fill="#eb046b"/><text x="2874" y="611.5">&lt;a3.0_v&gt;</text></g>
<g id="n-a3_7" class="n"><rect x="1362" y="677" width="94" height="48" rx="14" fill="#7a4ad8"/><text x="1409" y="707.5">&lt;a3.7&gt;</text></g>
<g id="n-a3_6" class="n"><rect x="1713" y="677" width="94" height="48" rx="14" fill="#854039"/><text x="1760" y="707.5">&lt;a3.6&gt;</text></g>
<g id="n-a3_0" class="n"><rect x="1981" y="677" width="96" height="48" rx="14" fill="#333804"/><text x="2029" y="707.5">&lt;a3.0&gt;</text></g>
<g id="n-resid_post" class="n"><rect x="1615" y="773" width="148" height="48" rx="14" fill="#aa0c18"/><text x="1689" y="803.5">&lt;resid_post&gt;</text></g>
</svg>
